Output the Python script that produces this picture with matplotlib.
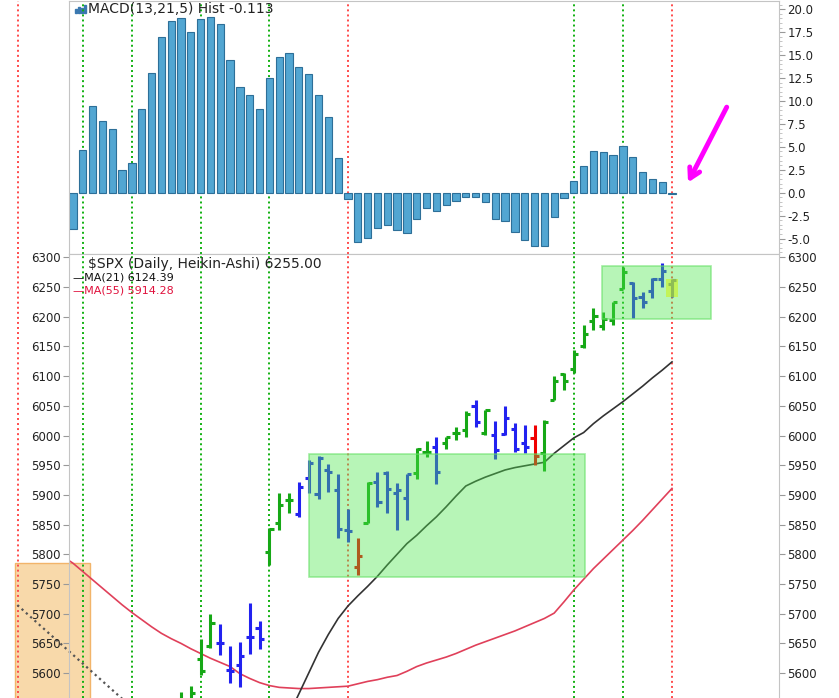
import numpy as np
import matplotlib
matplotlib.use("Agg")
import matplotlib.pyplot as plt
from matplotlib.patches import Rectangle
from matplotlib.ticker import AutoMinorLocator, MultipleLocator

# MACD(13,21,5) histogram, one value per daily bar (bar 0 .. 61)
macd_hist = [-4.0, 4.7, 9.4, 7.8, 6.9, 2.5, 3.2, 9.1, 13.0, 17.0,
             18.7, 19.1, 17.5, 18.9, 19.2, 18.4, 14.5, 11.5, 10.6, 9.1,
             12.5, 14.8, 15.2, 13.7, 12.9, 10.7, 8.3, 3.75, -0.7, -5.4,
             -4.9, -3.9, -3.5, -4.1, -4.4, -2.9, -1.7, -1.96, -1.3, -0.87,
             -0.47, -0.47, -1.0, -2.9, -3.1, -4.3, -5.2, -5.8, -5.8, -2.65,
             -0.6, 1.3, 2.95, 4.6, 4.4, 4.15, 5.1, 3.9, 2.25, 1.45,
             1.2, -0.113]

# Heikin-Ashi bars visible in the price panel (bar index, open, high, low, close, colour)
ha_idx = list(range(11, 62))
ha_open = [5545, 5545, 5623, 5646, 5651, 5605, 5613, 5661, 5676, 5804,
           5853, 5891, 5868, 5929, 5902, 5942, 5908, 5841, 5779, 5853,
           5922, 5937, 5903, 5895, 5937, 5973, 5981, 5987, 6004, 6009,
           6049, 6004, 6001, 6003, 6011, 5987, 5996, 5970, 6059, 6103,
           6112, 6151, 6192, 6185, 6194, 6246, 6256, 6233, 6243, 6263,
           6255]
ha_high = [5568, 5578, 5658, 5699, 5682, 5646, 5652, 5718, 5688, 5844,
           5904, 5904, 5922, 5958, 5966, 5952, 5936, 5876, 5827, 5921,
           5939, 5941, 5920, 5935, 5979, 5990, 5998, 5998, 6014, 6042,
           6059, 6043, 6025, 6050, 6021, 6017, 6017, 6026, 6100, 6106,
           6144, 6186, 6214, 6208, 6225, 6284, 6259, 6241, 6265, 6290,
           6263]
ha_low = [5520, 5530, 5597, 5643, 5631, 5583, 5576, 5633, 5641, 5782,
          5841, 5869, 5862, 5904, 5893, 5905, 5828, 5821, 5765, 5853,
          5879, 5870, 5841, 5857, 5926, 5964, 5918, 5977, 5993, 5998,
          6014, 6001, 5960, 6001, 5972, 5970, 5950, 5940, 6059, 6077,
          6105, 6147, 6178, 6178, 6186, 6246, 6198, 6215, 6231, 6250,
          6234]
ha_close = [5555, 5566, 5604, 5684, 5650, 5604, 5628, 5660, 5658, 5842,
            5883, 5891, 5914, 5954, 5962, 5939, 5842, 5839, 5798, 5920,
            5888, 5910, 5908, 5935, 5977, 5973, 5938, 5997, 6004, 6037,
            6022, 6043, 5976, 6029, 5978, 5980, 5966, 6023, 6092, 6092,
            6137, 6171, 6202, 6196, 6225, 6276, 6231, 6225, 6263, 6277,
            6262]
ha_dir = list("ggggbbbbbggg" "bbbbbbr" "gbbbbgg" "bggg" "bgbbbbr" "g"
              "gggggggg" "bbbbb")

# moving averages
ma21_idx = list(range(20, 62))
ma21 = [5470, 5500, 5530, 5565, 5600, 5635, 5665, 5692, 5713, 5730,
        5746, 5763, 5782, 5800, 5818, 5832, 5848, 5863, 5880, 5898,
        5915, 5923, 5930, 5936, 5942, 5946, 5949, 5952, 5955, 5970,
        5983, 5996, 6005, 6020, 6033, 6045, 6057, 6070, 6083, 6097,
        6110, 6124]
ma55_idx = list(range(-1, 62))
ma55 = [5796, 5785, 5771, 5757, 5743, 5729, 5715, 5702, 5690, 5678,
        5667, 5658, 5650, 5641, 5633, 5625, 5618, 5611, 5599, 5591,
        5584, 5579, 5576, 5575, 5574, 5574, 5575, 5576, 5577, 5578,
        5582, 5586, 5589, 5593, 5596, 5603, 5611, 5617, 5622, 5627,
        5633, 5640, 5647, 5653, 5659, 5665, 5671, 5678, 5685, 5692,
        5701, 5720, 5740, 5758, 5776, 5792, 5808, 5824, 5840, 5857,
        5875, 5893, 5911]

# time-cycle markers (bar index)
red_cycles = [-5.6, 28, 61]
green_cycles = [1, 6, 13, 20, 51, 56]

bar_colors = {"g": "#16a816", "b": "#2222f0", "r": "#f00000"}
spine_col = "#c4c4c4"
dots = (0, (1, 1.6))

W, H = 839, 698
fig = plt.figure(figsize=(W / 100, H / 100), dpi=100)
ax1 = fig.add_axes([69 / W, 1 - 254 / H, 710 / W, 253 / H])
ax2 = fig.add_axes([69 / W, 0, 710 / W, 444 / H])

xlim = ((69 - 73) / 9.82, (779 - 73) / 9.82)

# ---- MACD panel ----
ax1.bar(range(len(macd_hist)), macd_hist, width=0.74, color="#52a6d2",
        edgecolor="#2d6f98", linewidth=0.8, zorder=2)
ax1.set_xlim(*xlim)
ax1.set_ylim(-6.68, 20.9)
ax1.yaxis.tick_right()
ax1.yaxis.set_major_locator(MultipleLocator(2.5))
ax1.yaxis.set_minor_locator(AutoMinorLocator(5))
ax1.yaxis.set_major_formatter(matplotlib.ticker.FormatStrFormatter("%.1f"))
ax1.tick_params(axis="y", which="major", length=4, color="#999999",
                labelsize=8.5, labelcolor="#222222", pad=2)
ax1.tick_params(axis="y", which="minor", length=2, color="#bbbbbb")
ax1.set_xticks([])
ax1.text(0.027, 0.968, "MACD(13,21,5) Hist -0.113", transform=ax1.transAxes,
         fontsize=10, va="center", ha="left", color="#222222")
# little histogram icon
for k, hgt in enumerate([0.5, 0.8, 0.6, 1.0]):
    ax1.add_patch(Rectangle((0.008 + k * 0.0042, 0.953), 0.003, 0.03 * hgt,
                            transform=ax1.transAxes, color="#3a78b0"))
ax1.annotate("", xy=(62.5, 0.85), xytext=(66.7, 9.6),
             arrowprops=dict(arrowstyle="->,head_length=0.7,head_width=0.4",
                             color="#ff00ff", lw=3.5))

# ---- price panel ----
ax2.set_xlim(*xlim)
ax2.set_ylim(5558.1, 6305.6)

# orange box and dotted trend line sitting left of the panel
ax2.add_patch(Rectangle((-5.9, 5450), 7.63, 5785.4 - 5450, facecolor="#f8d9aa",
                        edgecolor="#f2b46a", lw=1, clip_on=False, zorder=0.5))
ax2.plot([-5.67, 5.5], [5714.6, 5549.5], color="#555555", ls=dots, lw=1.6,
         clip_on=False, zorder=1.5)

for ax in (ax1, ax2):
    for c in red_cycles:
        ax.axvline(c, color="#ff4a4a", ls=dots, lw=1.4, clip_on=False, zorder=1)
    for c in green_cycles:
        ax.axvline(c, color="#10b010", ls=dots, lw=1.4, clip_on=False, zorder=1)
    for s in ax.spines.values():
        s.set_color(spine_col)
ax2.spines["bottom"].set_visible(False)

ax2.plot(ma55_idx, ma55, color="#e0405a", lw=1.2, zorder=2)
ax2.plot(ma21_idx, ma21, color="#333333", lw=1.2, zorder=2)

cols = [bar_colors[d] for d in ha_dir]
x = np.array(ha_idx, dtype=float)
ax2.vlines(x, ha_low, ha_high, colors=cols, lw=2.2, zorder=3)
ax2.hlines(ha_open, x - 0.42, x, colors=cols, lw=2.2, zorder=3)
ax2.hlines(ha_close, x, x + 0.42, colors=cols, lw=2.2, zorder=3)

# consolidation boxes
ax2.add_patch(Rectangle((24.03, 5762.3), 52.14 - 24.03, 5968.4 - 5762.3,
                        facecolor=(0.3, 0.9, 0.3, 0.4),
                        edgecolor=(0.4, 0.88, 0.4, 0.6), lw=1.2, zorder=4))
ax2.add_patch(Rectangle((53.87, 6196.0), 64.97 - 53.87, 6285.9 - 6196.0,
                        facecolor=(0.3, 0.9, 0.3, 0.4),
                        edgecolor=(0.4, 0.88, 0.4, 0.6), lw=1.2, zorder=4))
ax2.add_patch(Rectangle((60.4, 6233), 1.2, 30.5,
                        facecolor=(0.8, 0.95, 0.1, 0.6), lw=0, zorder=4))

ax2.set_xticks([])
ax2.yaxis.set_major_locator(MultipleLocator(50))
ax2.tick_params(axis="y", which="major", left=True, right=True,
                labelleft=True, labelright=True, length=4, color="#999999",
                labelsize=8.5, labelcolor="#222222", pad=2)

ax2.text(0.027, 0.9775, "$SPX (Daily, Heikin-Ashi) 6255.00",
         transform=ax2.transAxes, fontsize=10, va="center", ha="left",
         color="#222222", zorder=6)
ax2.text(0.0056, 0.948, "\u2014MA(21) 6124.39", transform=ax2.transAxes,
         fontsize=8, va="center", ha="left", color="#111111", zorder=6)
ax2.text(0.0056, 0.917, "\u2014MA(55) 5914.28", transform=ax2.transAxes,
         fontsize=8, va="center", ha="left", color="#e0103c", zorder=6)

fig.savefig("out.png", dpi=100)
